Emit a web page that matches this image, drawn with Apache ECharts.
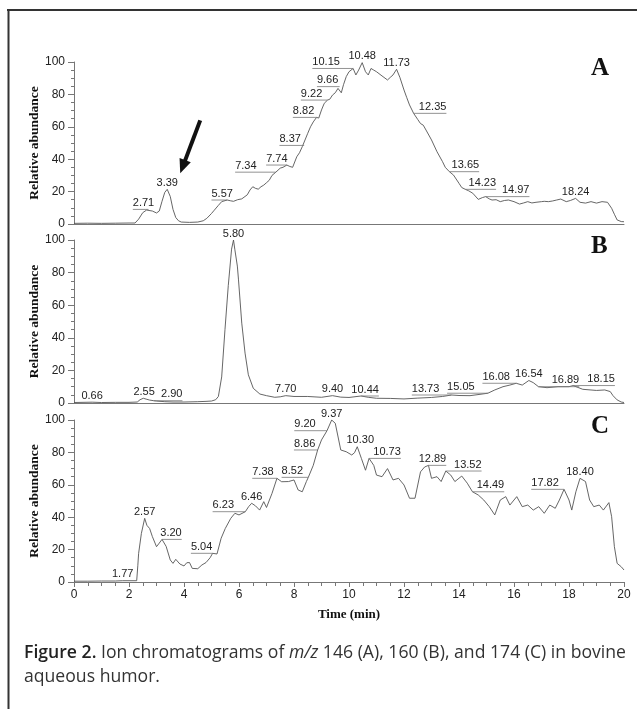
<!DOCTYPE html>
<html><head><meta charset="utf-8">
<script src="https://cdn.jsdelivr.net/npm/echarts@6/dist/echarts.min.js"></script>
<style>html,body{margin:0;padding:0;background:#fff}#c{width:637px;height:709px}</style>
</head><body><div id="c"></div><script>
// ---------- DATA ----------
const panelLetters = ['A', 'B', 'C'];
const timeA = [0,0.5,1.0,1.5,2.0,2.22,2.35,2.5,2.64,2.71,2.85,3.0,3.1,3.2,3.3,3.39,3.5,3.6,3.7,3.8,3.9,4.2,4.5,4.7,4.83,5.0,5.1,5.25,5.37,5.57,5.7,5.8,5.95,6.1,6.3,6.4,6.5,6.6,6.7,6.8,6.9,7.0,7.1,7.2,7.34,7.5,7.6,7.74,7.85,7.95,8.1,8.2,8.3,8.37,8.5,8.6,8.7,8.82,8.9,9.0,9.1,9.22,9.3,9.4,9.5,9.6,9.66,9.72,9.8,9.9,10.0,10.15,10.25,10.35,10.48,10.6,10.7,10.8,10.9,11.0,11.2,11.4,11.5,11.6,11.73,11.85,12.0,12.1,12.2,12.35,12.5,12.6,12.7,12.8,13.0,13.2,13.4,13.5,13.65,13.8,14.0,14.1,14.23,14.35,14.5,14.7,14.85,14.97,15.1,15.2,15.35,15.5,15.65,15.8,16.0,16.2,16.35,16.5,16.65,16.8,17.0,17.1,17.25,17.4,17.55,17.7,17.9,18.05,18.24,18.4,18.6,18.8,19.0,19.2,19.4,19.55,19.65,19.75,19.9,20];
const valA  = [0.4,0.5,0.4,0.5,0.6,0.6,3,7,8.6,9,8,6.8,8,14,19.5,21.4,17,9,4,2,1.2,1,1.2,2,3.5,6.5,8.5,11.5,13.8,14.8,14.3,14,15,15.5,18,21,23,22,21.5,23,24,25.5,27,30,32,34.5,35,36.4,35.5,35,41.5,44,47.7,48.5,56,60,63,65.8,65.4,70.4,74.5,76.5,77,79.6,81,83.7,84.8,81,86,91,94,96,92,95,99.6,94,92,96,95,94,91.4,88.9,90.5,92,95.5,90.5,82.7,78,73.5,68.3,64.5,62,61,58,51.9,44.6,38.5,35,32.3,30.2,25.1,22.5,21.4,20.5,19,15.2,16.3,16.9,15.5,14.8,15,13.8,14.5,14.8,13.8,12.3,13,13.8,13,13.4,13.8,14,13.8,14.2,14.8,15.4,13.8,14.5,15.8,13.4,12.9,13.8,12.9,13.8,13.4,9.7,6,2.5,1.5,1.4];
const peakTimeA = [2.71,3.39,5.57,7.34,7.74,8.37,8.82,9.22,9.66,10.15,10.48,11.73,12.35,13.65,14.23,14.97,18.24];
const peakValA  = [9,21.4,14.8,32,36.4,48.5,65.8,76.5,84.8,96,99.6,95.5,68.3,32.3,21.4,16.9,15.8];

const timeB = [0,0.66,1.0,1.5,2.0,2.3,2.4,2.52,2.62,2.75,2.9,3.0,3.3,3.6,4.0,4.5,4.8,5.0,5.15,5.25,5.37,5.49,5.61,5.73,5.8,5.85,5.94,5.98,6.1,6.22,6.34,6.52,6.76,7.0,7.3,7.5,7.7,8.0,8.5,9.0,9.4,9.7,10.0,10.44,10.7,11.0,11.5,12.0,12.5,13.0,13.4,13.73,14.0,14.4,14.8,15.05,15.3,15.6,15.85,16.08,16.3,16.54,16.7,16.89,17.2,17.6,18.0,18.15,18.5,19.0,19.3,19.5,19.6,19.75,19.9,20];
const valB  = [0.3,0.5,0.3,0.4,0.4,0.6,2,2.9,2.4,1.8,1.4,1.2,0.8,0.6,0.6,0.8,1,1.2,2,4,16,45,72,94.4,100,94,84,76,49,30.6,17.3,9,5.5,4.5,3.5,3.8,4.5,4,4,3.5,4.5,3.6,3.4,4.3,3.5,2.9,2.8,2.5,3,3.4,4,4.9,4.6,4.5,5.4,6,8,10,11,12.1,11,13.8,12.5,10,9.4,10,10,10.7,8.4,7.7,8,7,4.5,1.9,0.6,0.3];
const peakTimeB = [0.66,2.55,2.90,5.80,7.70,9.40,10.44,13.73,15.05,16.08,16.54,16.89,18.15];
const peakValB  = [0.5,2.9,1.4,100,4.5,4.5,4.3,4.9,6,12.1,13.8,10,10.7];

const timeC = [0,0.5,1.0,1.5,1.77,2.0,2.28,2.32,2.35,2.45,2.57,2.65,2.75,2.85,3.0,3.1,3.2,3.35,3.5,3.6,3.7,3.85,4.0,4.1,4.2,4.3,4.5,4.65,4.8,4.95,5.04,5.2,5.35,5.5,5.7,5.85,6.0,6.23,6.35,6.46,6.6,6.75,6.9,7.0,7.2,7.38,7.55,7.8,8.0,8.15,8.3,8.45,8.52,8.7,8.86,8.9,9.0,9.2,9.37,9.5,9.7,9.9,10.1,10.2,10.3,10.45,10.6,10.73,10.9,11.0,11.2,11.4,11.6,11.8,12.0,12.2,12.4,12.6,12.75,12.89,13.0,13.2,13.35,13.52,13.7,13.85,14.1,14.3,14.49,14.7,14.9,15.1,15.3,15.5,15.7,15.85,16.1,16.3,16.5,16.7,16.9,17.1,17.3,17.5,17.65,17.82,18.0,18.1,18.25,18.4,18.6,18.75,18.9,19.1,19.25,19.45,19.55,19.65,19.75,19.9,20];
const valC  = [0.5,0.5,0.6,0.6,0.8,0.8,0.8,10,17.7,30,39.3,35,33,28,21.8,24,26.3,22,13.6,11.5,14,11.1,9.9,11.9,12,8.4,8.2,10.5,12,15,17.7,17.3,27,33,39.3,42.4,41.4,43.4,46.5,48.6,47,44.4,49.6,46,54.7,64,61.9,62,63,56.8,55.7,62,64.6,72,81.5,82.5,87.7,93.4,100,98,81.5,80.4,78.4,79.8,83.5,76.3,69,76.3,72,66,65,70,63,64,59.9,51.7,51.7,68,71,72,64,65,62,68.5,66,62,65.4,61,55.7,53.7,50.6,46.5,41.4,50.6,52.7,47.5,52.7,46.5,47.5,44.4,46.5,42.4,47.5,45.5,50.6,57.2,50.6,44.4,55.7,64,62,50.6,46.5,47.5,44.4,49,40.3,21.8,11.5,9.4,7.4];
const peakTimeC = [1.77,2.57,3.20,5.04,6.23,6.46,7.38,8.52,8.86,9.20,9.37,10.30,10.73,12.89,13.52,14.49,17.82,18.40];
const peakValC  = [0.8,39.3,26.3,17.7,43.4,48.6,64,64.6,81.5,93.4,100,83.5,76.3,72,68.5,55.7,57.2,64];

const xTickLabels = ['0','2','4','6','8','10','12','14','16','18','20'];
const yTickLabels = ['0','20','40','60','80','100'];
const arrowTarget = [3.39, 21.4];

// ---------- LAYOUT (label nudges in px, not data) ----------
const nudgeA = [-5,0,-5,-30,-10,-14,-13,-16,-12,-27,0,0,19,16,17,30,0];
const nudgeB = [0,0,18,0,0,0,4,-26,-27,-20,0,27,28];
const nudgeC = [0,0,9,-11,-22,0,-14,-16,-13,-22,0,3,18,4,22,18,-19,0];

const panels = [
  {t: timeA, v: valA, pt: peakTimeA, pv: peakValA, nudge: nudgeA, top: 62, h: 162},
  {t: timeB, v: valB, pt: peakTimeB, pv: peakValB, nudge: nudgeB, top: 240, h: 163},
  {t: timeC, v: valC, pt: peakTimeC, pv: peakValC, nudge: nudgeC, top: 420, h: 162}
];

const axisGray = '#777';
const sansFont = '"Liberation Sans", Arial, sans-serif';
const serifFont = '"Liberation Serif", "Times New Roman", serif';

const chart = echarts.init(document.getElementById('c'), null, {renderer: 'canvas'});

function textWidth(s) {
  let w = 0;
  for (const ch of s) w += (ch === '.') ? 3.06 : 6.12;
  return w;
}

const grids = [], xAxes = [], yAxes = [], series = [], titles = [];
panels.forEach((p, i) => {
  const last = i === panels.length - 1;
  grids.push({left: 74, width: 550, top: p.top, height: p.h, containLabel: false});
  xAxes.push({
    type: 'value', gridIndex: i, min: 0, max: 20, interval: 2,
    axisLine: {show: true, lineStyle: {color: axisGray, width: 1}},
    axisTick: {show: last, length: 5, lineStyle: {color: axisGray}},
    minorTick: {show: last, splitNumber: 4, length: 4, lineStyle: {color: axisGray}},
    splitLine: {show: false},
    axisLabel: {show: last, margin: 7, fontFamily: sansFont, fontSize: 12, color: '#222',
      formatter: (val) => xTickLabels[Math.round(val / 2)]},
    name: last ? 'Time (min)' : '', nameLocation: 'middle', nameGap: 26, nameMoveOverlap: false,
    nameTextStyle: {fontFamily: serifFont, fontWeight: 'bold', fontSize: 13, color: '#111'}
  });
  yAxes.push({
    type: 'value', gridIndex: i, min: 0, max: 100, interval: 20,
    axisLine: {show: true, lineStyle: {color: axisGray, width: 1}},
    axisTick: {show: true, length: 6, lineStyle: {color: axisGray}},
    minorTick: {show: true, splitNumber: 4, length: 3, lineStyle: {color: axisGray}},
    splitLine: {show: false},
    axisLabel: {margin: 9, fontFamily: sansFont, fontSize: 12, color: '#222',
      formatter: (val) => yTickLabels[Math.round(val / 20)]},
    name: 'Relative abundance', nameLocation: 'middle', nameGap: 32, nameRotate: 90,
    nameMoveOverlap: false,
    nameTextStyle: {fontFamily: serifFont, fontWeight: 'bold', fontSize: 13.5, color: '#111'}
  });
  series.push({
    type: 'line', xAxisIndex: i, yAxisIndex: i,
    data: p.t.map((t, k) => [t, p.v[k]]),
    showSymbol: false, symbol: 'none', smooth: false, animation: false,
    lineStyle: {color: '#555', width: 0.9}, silent: true
  });
  const nudge = p.nudge;
  series.push({
    type: 'custom', xAxisIndex: i, yAxisIndex: i, clip: false, animation: false, silent: true, z: 5,
    data: p.pt.map((t, k) => [t, p.pv[k]]),
    encode: {x: 0, y: 1},
    renderItem: (params, api) => {
      const t = api.value(0), v = api.value(1);
      const pt = api.coord([t, v]);
      const dx = nudge[params.dataIndex] || 0;
      const txt = t.toFixed(2);
      const cx = pt[0] + dx;
      const children = [{
        type: 'text',
        style: {text: txt, x: cx, y: pt[1] - 1, align: 'center', verticalAlign: 'bottom',
          fontFamily: sansFont, fontSize: 11, fill: '#222'}
      }];
      if (Math.abs(dx) > 3) {
        const far = cx + Math.sign(dx) * textWidth(txt) / 2;
        children.push({type: 'line', shape: {x1: pt[0], y1: pt[1], x2: far, y2: pt[1]},
          style: {stroke: '#777', lineWidth: 0.8}});
      }
      return {type: 'group', children};
    }
  });
  titles.push({text: panelLetters[i], left: 586, top: p.top - 11,
    textStyle: {fontFamily: serifFont, fontWeight: 'bold', fontSize: 25, color: '#111'}});
});

chart.setOption({
  backgroundColor: '#fff',
  animation: false,
  title: titles,
  grid: grids, xAxis: xAxes, yAxis: yAxes, series: series
});

// ---------- annotations: arrow, frame, caption ----------
const tipBase = chart.convertToPixel({gridIndex: 0}, arrowTarget);
const tip = [tipBase[0] + 13, tipBase[1] - 16];
const tail = [tip[0] + 20, tip[1] - 53];
const len = Math.hypot(tip[0] - tail[0], tip[1] - tail[1]);
const ux = (tip[0] - tail[0]) / len, uy = (tip[1] - tail[1]) / len;
const headL = 14, headW = 6;
const hb = [tip[0] - ux * headL, tip[1] - uy * headL];

// caption fitting
const ctx = document.createElement('canvas').getContext('2d');
const capFam = '"Open Sans", "Noto Sans", sans-serif';
const capSize = 18;
function mw(font, s) { ctx.font = font; return ctx.measureText(s).width; }
const capBold = 'Figure 2.';
const capA = ' Ion chromatograms of ';
const capI = 'm/z';
const capB = ' 146 (A), 160 (B), and 174 (C) in bovine';
const w1 = mw('600 ' + capSize + 'px ' + capFam, capBold) + mw(capSize + 'px ' + capFam, capA) +
  mw('italic ' + capSize + 'px ' + capFam, capI) + mw(capSize + 'px ' + capFam, capB);
const sx = 602 / w1;
const rich = {
  b: {fontFamily: capFam, fontSize: capSize, fontWeight: 600, fill: '#222'},
  r: {fontFamily: capFam, fontSize: capSize, fill: '#333'},
  i: {fontFamily: capFam, fontSize: capSize, fontStyle: 'italic', fill: '#333'}
};

chart.setOption({
  graphic: [
    {type: 'line', shape: {x1: 7, y1: 10, x2: 637, y2: 10}, style: {stroke: '#333', lineWidth: 2}},
    {type: 'line', shape: {x1: 8.5, y1: 9, x2: 8.5, y2: 709}, style: {stroke: '#333', lineWidth: 2}},
    {type: 'line', shape: {x1: tail[0], y1: tail[1], x2: hb[0] + ux * 2, y2: hb[1] + uy * 2},
      style: {stroke: '#111', lineWidth: 4}},
    {type: 'polygon', shape: {points: [tip,
      [hb[0] - uy * headW, hb[1] + ux * headW], [hb[0] + uy * headW, hb[1] - ux * headW]]},
      style: {fill: '#111'}},
    {type: 'text', x: 24, y: 653, scaleX: sx, scaleY: 1,
      style: {text: '{b|' + capBold + '}{r|' + capA + '}{i|' + capI + '}{r|' + capB + '}',
        rich: rich, verticalAlign: 'middle', align: 'left'}},
    {type: 'text', x: 24, y: 677, scaleX: sx, scaleY: 1,
      style: {text: '{r|aqueous humor.}', rich: rich, verticalAlign: 'middle', align: 'left'}}
  ]
});
</script></body></html>
